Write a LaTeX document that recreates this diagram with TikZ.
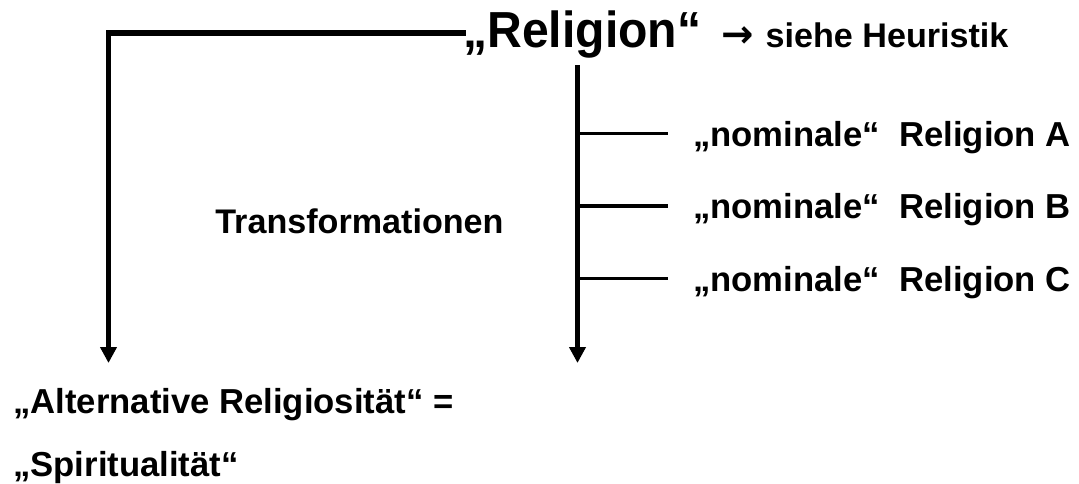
\documentclass[tikz,border=0pt]{standalone}
\usepackage{fontspec}
\setmainfont{Liberation Sans}
\newfontfamily\arrowfont{DejaVu Sans}
\usetikzlibrary{arrows.meta,positioning}

\begin{document}
\begin{tikzpicture}[
  x=0.75pt,y=-0.75pt,
  lbl/.style={inner sep=0pt,anchor=base west,font=\fontsize{26pt}{31pt}\selectfont\bfseries},
  item/.style={lbl,anchor=west,text depth=0pt},
  thick line/.style={line width=4pt},
  arr/.style={line width=3.4pt,-{Triangle[length=12pt,width=12pt]}},
  branch/.style={line width=2.4pt}]
  \useasboundingbox (0,0) rectangle (1079,483);
  \node[lbl,font=\fontsize{38pt}{44pt}\selectfont\bfseries] (rel) at (463,47) {\scalebox{0.95}[1]{„Religion“}};
  \node[lbl,font=\fontsize{25.6pt}{30pt}\selectfont\bfseries] (heur) at (721,47) {{\arrowfont\bfseries\fontsize{29pt}{30pt}\selectfont →}\hspace{9pt}siehe Heuristik};
  \node[item] (relA) at (693,133.5) {„nominale“\ \ Religion A};
  \node[item] (relB) at (693,206) {„nominale“\ \ Religion B};
  \node[item] (relC) at (693,278.5) {„nominale“\ \ Religion C};
  \node[lbl,font=\fontsize{25.6pt}{30pt}\selectfont\bfseries] (trans) at (215,233) {Transformationen};
  \node[lbl] (alt) at (13,413) {„Alternative Religiosität“ =};
  \node[lbl] (spir) at (13,476) {„Spiritualität“};
  \coordinate (corner) at (108.5,33);
  \coordinate (ltip) at (108.5,363);
  \coordinate (stem) at (577.5,65);
  \coordinate (rtip) at (577.5,363);
  % rahmen links
  \draw[thick line] ([xshift=2pt]rel.west |- corner) -- ([xshift=-2pt]corner);
  \draw[arr] ([yshift=2pt]corner) -- (ltip);
  % stamm rechts mit abzweigen
  \draw[arr] (stem) -- (rtip);
  \draw[branch] (stem |- relA.west) -- ([xshift=-18.75pt]relA.west);
  \draw[branch] (stem |- relB.west) -- ([xshift=-18.75pt]relB.west);
  \draw[branch] (stem |- relC.west) -- ([xshift=-18.75pt]relC.west);
\end{tikzpicture}
\end{document}
